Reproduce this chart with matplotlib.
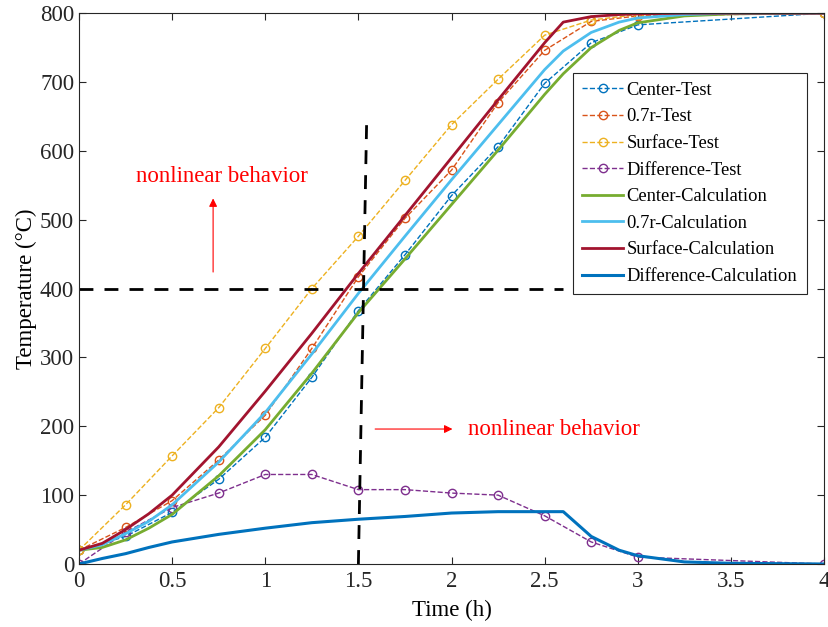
import numpy as np
import matplotlib.pyplot as plt

plt.rcParams['font.family'] = ['Liberation Serif', 'DejaVu Serif']
plt.rcParams['mathtext.fontset'] = 'stix'

# test data (markers every 0.25 h, last one at 4 h)
t_test = [0, 0.25, 0.5, 0.75, 1, 1.25, 1.5, 1.75, 2, 2.25, 2.5, 2.75, 3, 4]
center_test = [20, 40, 75, 123, 184, 271, 368, 449, 535, 606, 698, 757, 783, 800]
r07_test = [20, 53, 92, 151, 216, 313, 417, 502, 572, 670, 746, 788, 796, 800]
surface_test = [20, 86, 157, 227, 313, 400, 476, 557, 638, 704, 768, 790, 798, 800]
diff_test = [0, 46, 82, 103, 130, 130, 108, 108, 103, 100, 70, 32, 10, 0]

# calculation data
t_calc = [0, 0.125, 0.25, 0.375, 0.5, 0.75, 1, 1.25, 1.5, 1.75, 2, 2.25, 2.5, 2.6,
          2.75, 2.9, 3, 3.25, 3.5, 4]
center_calc = [20, 24, 35, 52, 72, 128, 195, 277, 365, 443, 522, 601, 682, 712,
               750, 775, 786, 796, 799, 800]
r07_calc = [20, 28, 44, 62, 86, 148, 220, 305, 393, 476, 558, 638, 718, 745,
            772, 787, 793, 798, 800, 800]
surface_calc = [20, 30, 50, 73, 100, 170, 251, 335, 422, 506, 590, 674, 757, 787,
                795, 798, 799, 800, 800, 800]
diff_calc = [0, 8, 15, 24, 32, 43, 52, 60, 65, 69, 74, 76, 76, 76,
             40, 20, 12, 3, 1, 0]

fig = plt.figure(figsize=(8.29, 6.27), dpi=100)
ax = fig.add_axes([0.0953, 0.1005, 0.8987, 0.8785])

ms = 6
ax.plot(t_test, center_test, '--o', color='#0072BD', lw=1, ms=ms, mfc='none', label='Center-Test')
ax.plot(t_test, r07_test, '--o', color='#D95319', lw=1, ms=ms, mfc='none', label='0.7r-Test')
ax.plot(t_test, surface_test, '--o', color='#EDB120', lw=1, ms=ms, mfc='none', label='Surface-Test')
ax.plot(t_test, diff_test, '--o', color='#7E2F8E', lw=1, ms=ms, mfc='none', label='Difference-Test')
ax.plot(t_calc, center_calc, '-', color='#77AC30', lw=2, label='Center-Calculation')
ax.plot(t_calc, r07_calc, '-', color='#4DBEEE', lw=2, label='0.7r-Calculation')
ax.plot(t_calc, surface_calc, '-', color='#A2142F', lw=2, label='Surface-Calculation')
ax.plot(t_calc, diff_calc, '-', color='#0072BD', lw=2.2, label='Difference-Calculation')

# guide lines
ax.plot([0, 2.6], [400, 400], '--', color='black', lw=2, dashes=(5, 4))
ax.plot([1.5, 1.545], [0, 652], '--', color='black', lw=2, dashes=(5, 4))

# annotations
ax.annotate('', xy=(0.72, 535), xytext=(0.72, 420),
            arrowprops=dict(arrowstyle='-|>', color='red', lw=0.8, mutation_scale=12))
ax.text(0.77, 563, 'nonlinear behavior', color='red', fontsize=16.5, ha='center', va='center')
ax.annotate('', xy=(2.02, 196), xytext=(1.575, 196),
            arrowprops=dict(arrowstyle='-|>', color='red', lw=0.8, mutation_scale=12))
ax.text(2.09, 196, 'nonlinear behavior', color='red', fontsize=16.5, ha='left', va='center')

ax.set_xlim(0, 4)
ax.set_ylim(0, 800)
ax.set_xticks(np.arange(0, 4.01, 0.5))
ax.set_xticklabels(['0', '0.5', '1', '1.5', '2', '2.5', '3', '3.5', '4'])
ax.set_yticks(np.arange(0, 801, 100))
ax.tick_params(direction='in', top=True, right=True, labelsize=16.5, colors='#262626', length=5)
ax.tick_params(axis='x', pad=5)
for s in ax.spines.values():
    s.set_color('#262626')
    s.set_linewidth(0.8)
ax.set_xlabel('Time (h)', fontsize=16.5, labelpad=6)
ax.set_ylabel('Temperature (°C)', fontsize=16.5, labelpad=2)

leg = ax.legend(loc='upper right', bbox_to_anchor=(0.989, 0.909), fontsize=13.3, fancybox=False,
                edgecolor='#262626', framealpha=1, handlelength=2.2, labelspacing=0.52,
                borderpad=0.5, handletextpad=0.2)
leg.get_frame().set_linewidth(0.8)

fig.savefig('out.png', dpi=100)
